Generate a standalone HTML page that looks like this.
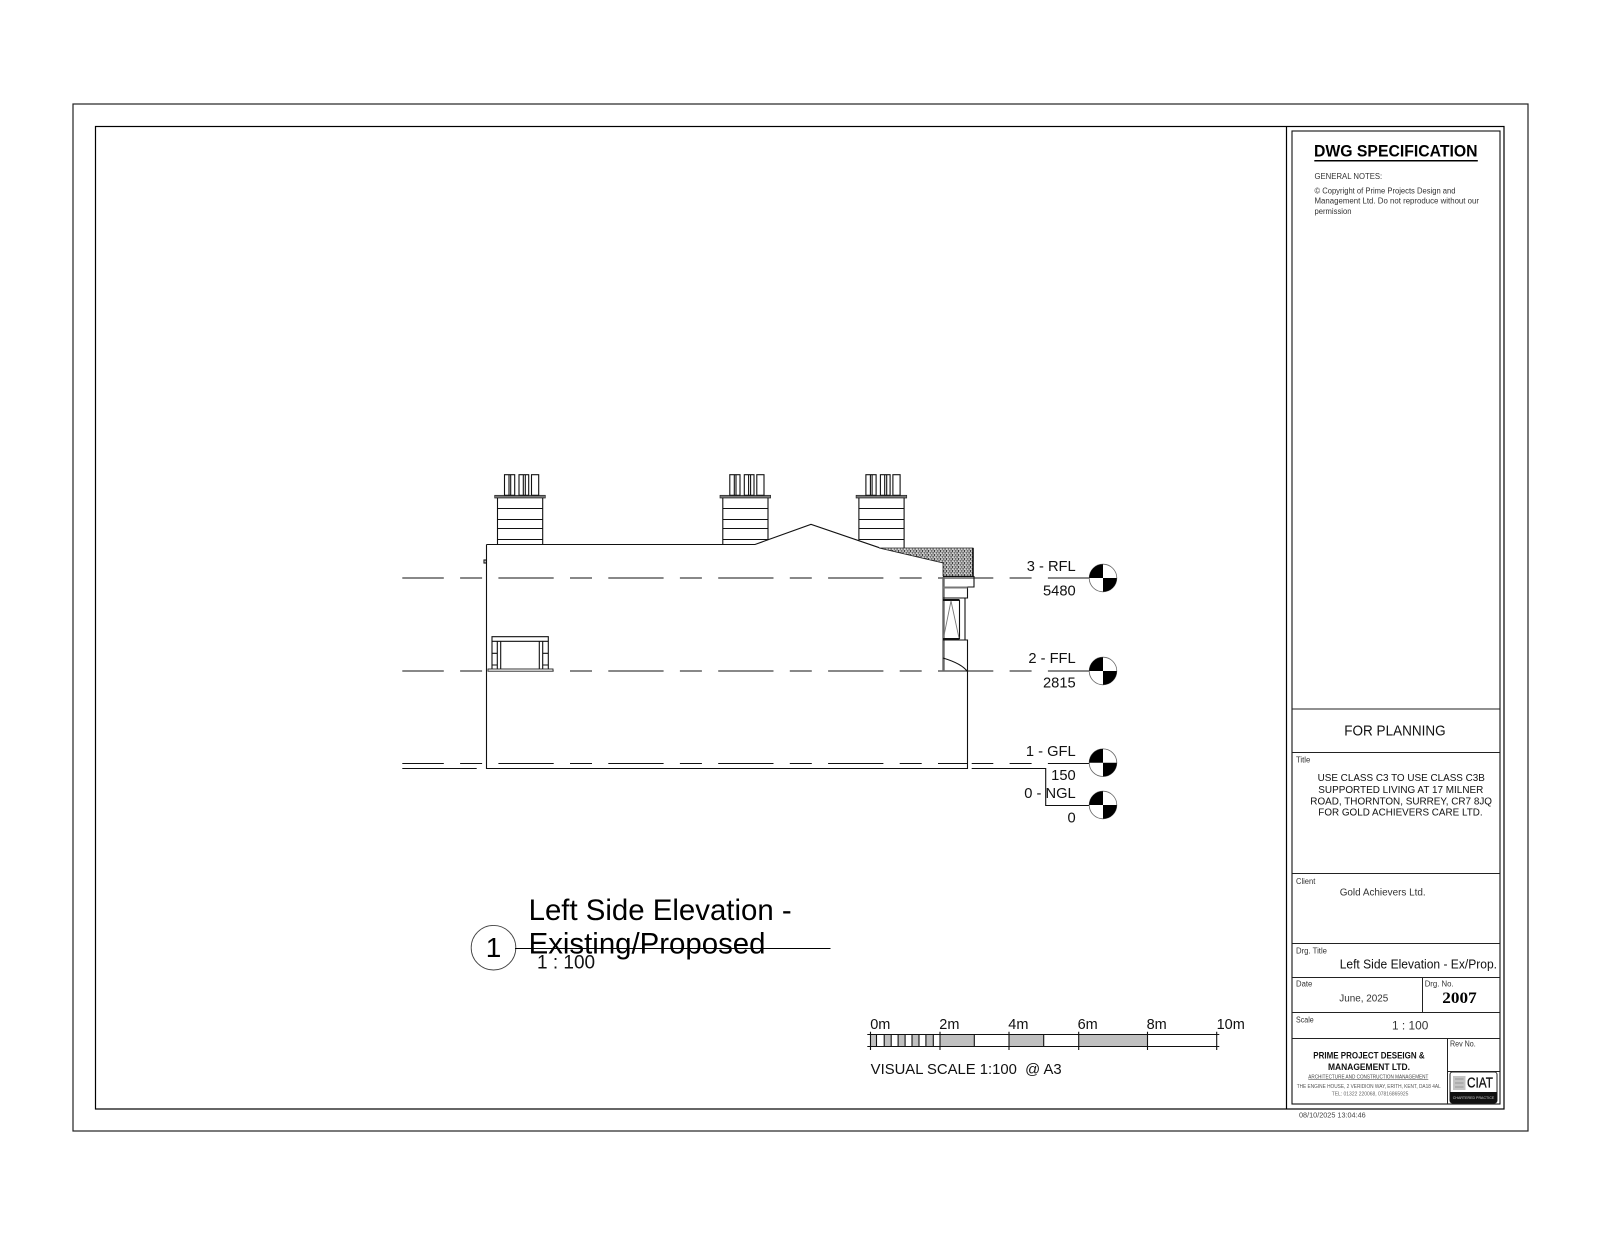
<!DOCTYPE html>
<html>
<head>
<meta charset="utf-8">
<style>
html,body{margin:0;padding:0;background:#fff;width:1600px;height:1236px;overflow:hidden}
svg{display:block}
text{font-family:"Liberation Sans",sans-serif;fill:#111}
.l{stroke:#111;stroke-width:1.1;fill:none}
.f{font-size:8px;fill:#333}
</style>
</head>
<body>
<svg width="1600" height="1236" viewBox="0 0 1600 1236" xmlns="http://www.w3.org/2000/svg">
<defs>
<pattern id="brick" width="6" height="4" patternUnits="userSpaceOnUse" x="879" y="548">
<rect width="6" height="4" fill="#333"/>
<rect x="0.5" y="0.4" width="2.4" height="1.4" fill="#fff"/>
<rect x="3.5" y="0.4" width="2.2" height="1.4" fill="#f4f4f4"/>
<rect x="0" y="2.4" width="1.1" height="1.3" fill="#f4f4f4"/>
<rect x="2" y="2.4" width="2.5" height="1.3" fill="#fff"/>
<rect x="5.1" y="2.4" width="0.9" height="1.3" fill="#f4f4f4"/>
</pattern>
<g id="chimney">
<rect x="494.7" y="495.3" width="50.6" height="2.7" fill="#777" stroke="#222" stroke-width="0.7"/>
<path class="l" d="M497.5 508.5H542.7M497.5 519.5H542.7M497.5 528.5H542.7M497.5 539.5H542.7"/>
<rect class="l" x="504.5" y="474.7" width="10.2" height="20.6"/>
<path class="l" d="M509 474.7V495.3M510.7 474.7V495.3"/>
<rect class="l" x="519" y="474.7" width="9.7" height="20.6"/>
<path class="l" d="M523.3 474.7V495.3M525.3 474.7V495.3"/>
<rect class="l" x="531.5" y="474.7" width="7.2" height="20.6"/>
</g>
<g id="sym">
<circle r="13.8" fill="#fff" stroke="#666" stroke-width="0.8"/>
<path d="M0 0V-13.8A13.8 13.8 0 0 0 -13.8 0Z" fill="#000"/>
<path d="M0 0V13.8A13.8 13.8 0 0 0 13.8 0Z" fill="#000"/>
</g>
</defs>

<!-- sheet frames -->
<rect x="73" y="104" width="1455" height="1027" fill="none" stroke="#222" stroke-width="1.2"/>
<rect x="95.5" y="126.5" width="1408.5" height="982.5" fill="none" stroke="#000" stroke-width="1.2"/>
<path d="M1286.5 126.5V1109" stroke="#000" stroke-width="1.2" fill="none"/>
<rect x="1292" y="131" width="208" height="973" fill="none" stroke="#111" stroke-width="1.1"/>
<path d="M1292 709H1500M1292 752.5H1500M1292 873.5H1500M1292 943.5H1500M1292 977.5H1500M1292 1012.5H1500M1292 1038.5H1500M1422.5 977V1012M1447.5 1038V1104M1447 1071.5H1500" stroke="#222" stroke-width="1" fill="none"/>

<!-- level lines -->
<g stroke="#111" stroke-width="1.1" fill="none" stroke-dasharray="55.3 16.3 22 16.3" stroke-dashoffset="13.8">
<line x1="402.3" y1="578" x2="1090" y2="578"/>
<line x1="402.3" y1="671" x2="1090" y2="671"/>
<line x1="402.3" y1="763.5" x2="1090" y2="763.5"/>
</g>
<rect x="968" y="761.5" width="3.7" height="4" fill="#fff"/>

<!-- building -->
<path class="l" d="M402.3 768.5H476.7M486.5 544.5V768.5H967.5V671M486.5 544.5H755L811 524.3L879.3 547.7"/>
<path class="l" d="M971.7 768.5H1045.7V805.5H1090"/>
<rect class="l" x="484" y="560" width="2.3" height="3" />

<use href="#chimney"/>
<use href="#chimney" transform="translate(225.3 0)"/>
<use href="#chimney" transform="translate(361.4 0)"/>
<!-- chimney stack verticals -->
<path class="l" d="M497.5 498V544.5M542.7 498V544.5M722.8 498V544.5M768 498V539.7M858.9 498V540.6M904.1 498V548"/>

<!-- eaves hatch -->
<path d="M879 548H973V576H943V563Z" fill="url(#brick)" stroke="#222" stroke-width="0.8"/>
<path d="M973 548V576" stroke="#111" stroke-width="1.6"/>

<!-- end elevation -->
<rect x="942.3" y="577" width="2.4" height="94" fill="#666"/>
<path class="l" d="M943 576.5H974V587H967.5V598H943M967.5 598H965V640M959.5 600V639M943 640H967.5V671M943 658C953 661 963 665 967.5 671.7"/>
<path d="M943 587.5H967.5" stroke="#777" stroke-width="2"/>
<path d="M943 600H959.5M943 639H959.5" stroke="#111" stroke-width="2"/>
<path d="M943.5 638L951 601L959 638" fill="none" stroke="#777" stroke-width="0.9"/>

<!-- left window -->
<g>
<path class="l" d="M492 669V636.7H548.3V669M497.3 669V641.3H542.7V669M492 641.3H548.3M500.7 641.3V669M539.3 641.3V669M492 653.3H497.3M492 665H497.3M542.7 653.3H548.3M542.7 665H548.3"/>
<rect x="488" y="669" width="65" height="2.2" fill="#fff" stroke="#222" stroke-width="0.9"/>
</g>

<!-- level symbols -->
<use href="#sym" transform="translate(1103 578)"/>
<use href="#sym" transform="translate(1103 671)"/>
<use href="#sym" transform="translate(1103 762.7)"/>
<use href="#sym" transform="translate(1103 805)"/>

<g font-size="14.7" text-anchor="end">
<text x="1075.7" y="571">3 - RFL</text>
<text x="1075.7" y="595.3">5480</text>
<text x="1075.7" y="663">2 - FFL</text>
<text x="1075.7" y="687.3">2815</text>
<text x="1075.7" y="756">1 - GFL</text>
<text x="1075.7" y="780">150</text>
<text x="1075.7" y="798">0 - NGL</text>
<text x="1075.7" y="822.3">0</text>
</g>

<!-- view title -->
<circle cx="493.5" cy="947.7" r="22.3" fill="none" stroke="#444" stroke-width="0.9"/>
<text x="493.5" y="957" font-size="28" text-anchor="middle" style="fill:#000">1</text>
<text x="528.6" y="920" font-size="29.4" style="fill:#000">Left Side Elevation -</text>
<text x="528.6" y="953.3" font-size="29.4" style="fill:#000">Existing/Proposed</text>
<line x1="515" y1="948.5" x2="830.5" y2="948.5" stroke="#000" stroke-width="1"/>
<text x="537" y="968.3" font-size="19">1 : 100</text>

<!-- scale bar -->
<g fill="#c0c0c0">
<rect x="870.3" y="1034.3" width="6" height="12"/>
<rect x="884.2" y="1034.3" width="7" height="12"/>
<rect x="898.1" y="1034.3" width="7" height="12"/>
<rect x="912" y="1034.3" width="7" height="12"/>
<rect x="925.9" y="1034.3" width="7.4" height="12"/>
<rect x="940" y="1034.3" width="34.3" height="12"/>
<rect x="1009" y="1034.3" width="34.7" height="12"/>
<rect x="1078.7" y="1034.3" width="68.6" height="12"/>
</g>
<path class="l" d="M867.3 1034.5H1219.3M867.3 1046.5H1219.3M870.5 1031.7V1050M940 1031.7V1050M1009 1031.7V1050M1078.7 1031.7V1050M1147.5 1031.7V1050M1216.7 1031.7V1050M876.5 1034.3V1046.3M884.2 1034.3V1046.3M891.2 1034.3V1046.3M898.1 1034.3V1046.3M905.1 1034.3V1046.3M912 1034.3V1046.3M919 1034.3V1046.3M925.9 1034.3V1046.3M933.3 1034.3V1046.3M974.3 1034.3V1046.3M1043.7 1034.3V1046.3"/>
<g font-size="14.5">
<text x="870.2" y="1029">0m</text>
<text x="939.3" y="1029">2m</text>
<text x="1008.3" y="1029">4m</text>
<text x="1077.6" y="1029">6m</text>
<text x="1146.6" y="1029">8m</text>
<text x="1216.6" y="1029">10m</text>
<text x="870.7" y="1074" xml:space="preserve" style="white-space:pre" textLength="191" lengthAdjust="spacingAndGlyphs">VISUAL SCALE 1:100  @ A3</text>
</g>

<!-- title block text -->
<text x="1314" y="156.7" font-size="16.3" font-weight="bold" textLength="163.5" lengthAdjust="spacingAndGlyphs" style="fill:#000">DWG SPECIFICATION</text>
<rect x="1314.3" y="160" width="163.5" height="1.5" fill="#000"/>
<text class="f" x="1314.5" y="179" font-size="8.5" textLength="67.7" lengthAdjust="spacingAndGlyphs">GENERAL NOTES:</text>
<text class="f" x="1314.5" y="193.3" textLength="141" lengthAdjust="spacingAndGlyphs">© Copyright of Prime Projects Design and</text>
<text class="f" x="1314.5" y="203.3" textLength="164.5" lengthAdjust="spacingAndGlyphs">Management Ltd. Do not reproduce without our</text>
<text class="f" x="1314.5" y="214" textLength="37" lengthAdjust="spacingAndGlyphs">permission</text>

<text x="1344.3" y="735.7" font-size="14.5" textLength="101.3" lengthAdjust="spacingAndGlyphs">FOR PLANNING</text>

<text class="f" x="1296" y="762.7" textLength="14.3" lengthAdjust="spacingAndGlyphs">Title</text>
<g font-size="10.5" style="fill:#333">
<text x="1317.6" y="781" textLength="167.3" lengthAdjust="spacingAndGlyphs">USE CLASS C3 TO USE CLASS C3B</text>
<text x="1318.3" y="793" textLength="165" lengthAdjust="spacingAndGlyphs">SUPPORTED LIVING AT 17 MILNER</text>
<text x="1310.3" y="804.7" textLength="181.7" lengthAdjust="spacingAndGlyphs">ROAD, THORNTON, SURREY, CR7 8JQ</text>
<text x="1318.3" y="815.7" textLength="164.3" lengthAdjust="spacingAndGlyphs">FOR GOLD ACHIEVERS CARE LTD.</text>
</g>

<text class="f" x="1296" y="884" textLength="19.3" lengthAdjust="spacingAndGlyphs">Client</text>
<text x="1339.7" y="895.7" font-size="10" textLength="86" lengthAdjust="spacingAndGlyphs" style="fill:#333">Gold Achievers Ltd.</text>

<text class="f" x="1296" y="953.3" textLength="31" lengthAdjust="spacingAndGlyphs">Drg. Title</text>
<text x="1339.7" y="968.3" font-size="12.5" textLength="157.3" lengthAdjust="spacingAndGlyphs">Left Side Elevation - Ex/Prop.</text>

<text class="f" x="1296" y="986.7" textLength="16.3" lengthAdjust="spacingAndGlyphs">Date</text>
<text class="f" x="1424.7" y="986.7" textLength="29" lengthAdjust="spacingAndGlyphs">Drg. No.</text>
<text x="1339.3" y="1001.7" font-size="10" textLength="49" lengthAdjust="spacingAndGlyphs" style="fill:#333">June, 2025</text>
<text x="1442.3" y="1003" font-size="15.5" font-weight="bold" textLength="34.4" lengthAdjust="spacingAndGlyphs" style="font-family:'Liberation Serif',serif;fill:#000">2007</text>

<text class="f" x="1296" y="1022.3" textLength="17.7" lengthAdjust="spacingAndGlyphs">Scale</text>
<text x="1392" y="1029.3" font-size="12" textLength="36.3" lengthAdjust="spacingAndGlyphs" style="fill:#333">1 : 100</text>

<text class="f" x="1450" y="1046.7" textLength="25.7" lengthAdjust="spacingAndGlyphs">Rev No.</text>

<text x="1313.3" y="1058.7" font-size="9.5" font-weight="bold" textLength="111.3" lengthAdjust="spacingAndGlyphs">PRIME PROJECT DESEIGN &amp;</text>
<text x="1328" y="1070" font-size="9.5" font-weight="bold" textLength="82" lengthAdjust="spacingAndGlyphs">MANAGEMENT LTD.</text>
<text x="1308.3" y="1078.7" font-size="5" textLength="120" lengthAdjust="spacingAndGlyphs" style="fill:#444">ARCHITECTURE AND CONSTRUCTION MANAGEMENT</text>
<line x1="1308.3" y1="1079.6" x2="1428.3" y2="1079.6" stroke="#555" stroke-width="0.6"/>
<text x="1296.7" y="1088" font-size="5" textLength="144" lengthAdjust="spacingAndGlyphs" style="fill:#555">THE ENGINE HOUSE, 2 VERIDION WAY, ERITH, KENT, DA18 4AL</text>
<text x="1331.7" y="1095.7" font-size="5" textLength="76.7" lengthAdjust="spacingAndGlyphs" style="fill:#666">TEL: 01322 220068, 07816865925</text>

<!-- CIAT logo -->
<rect x="1450" y="1072" width="47" height="31" rx="2.5" fill="#fff" stroke="#222" stroke-width="1"/>
<path d="M1450 1092H1497V1100.5A2.5 2.5 0 0 1 1494.5 1103H1452.5A2.5 2.5 0 0 1 1450 1100.5Z" fill="#111"/>
<rect x="1453" y="1076" width="12.5" height="14" fill="#c4c4c4"/>
<path d="M1455 1079H1463.5M1455 1083H1463.5M1455 1087H1463.5" stroke="#999" stroke-width="1"/>
<text x="1467" y="1087.7" font-size="15" textLength="26" lengthAdjust="spacingAndGlyphs" style="fill:#111;stroke:#111;stroke-width:0.3">CIAT</text>
<text x="1473.5" y="1099" font-size="3.6" text-anchor="middle" style="fill:#ccc">CHARTERED PRACTICE</text>

<text x="1299" y="1117.7" font-size="7.5" textLength="66.7" lengthAdjust="spacingAndGlyphs" style="fill:#444">08/10/2025 13:04:46</text>
</svg>
</body>
</html>
